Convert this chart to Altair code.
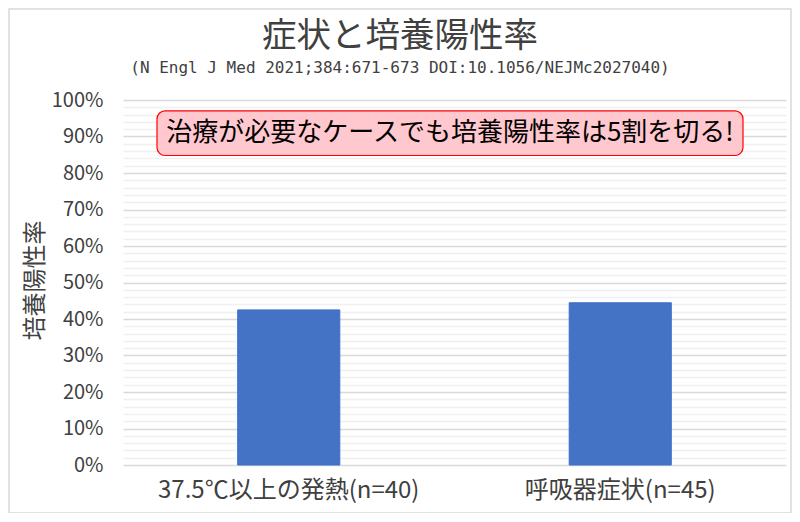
import altair as alt
import pandas as pd

# ---- data ----
categories = ["37.5℃以上の発熱(n=40)", "呼吸器症状(n=45)"]
positive_rate = [17 / 40, 20 / 45]   # 42.5%, 44.4%

title_text = ["症状と培養陽性率"]
subtitle_text = ["(N Engl J Med 2021;384:671-673 DOI:10.1056/NEJMc2027040)"]

note_text = ["治療が必要なケースでも培養陽性率は5割を切る!"]
note_y_low = [0.848]
note_y_high = [0.97]
note_y_mid = [0.909]

grid_values = [0, 0.02, 0.04, 0.06, 0.08, 0.1, 0.12, 0.14, 0.16, 0.18,
               0.2, 0.22, 0.24, 0.26, 0.28, 0.3, 0.32, 0.34, 0.36, 0.38,
               0.4, 0.42, 0.44, 0.46, 0.48, 0.5, 0.52, 0.54, 0.56, 0.58,
               0.6, 0.62, 0.64, 0.66, 0.68, 0.7, 0.72, 0.74, 0.76, 0.78,
               0.8, 0.82, 0.84, 0.86, 0.88, 0.9, 0.92, 0.94, 0.96, 0.98, 1.0]

df = pd.DataFrame({"cat": categories, "rate": positive_rate})
note_df = pd.DataFrame({"text": note_text, "y1": note_y_low, "y2": note_y_high, "ym": note_y_mid})
title_df = pd.DataFrame({"t": title_text, "s": subtitle_text})

FONT = "Noto Sans CJK JP"
TXT = "#404040"

major_test = "round(datum.value*100) % 10 === 0"

yscale = alt.Scale(domain=[0, 1], nice=False, zero=True)

y_axis = alt.Axis(values=grid_values, format=".0%",
                  labelExpr=f"{major_test} ? datum.label : ''",
                  labelOverlap=False, labelBound=False,
                  labelFontSize=20, labelColor=TXT, labelFont=FONT, labelPadding=20,
                  domain=False, ticks=False,
                  gridColor={"condition": {"test": major_test, "value": "#d9d9d9"},
                             "value": "#f0f0f0"},
                  gridWidth=1.3,
                  titleFontSize=24, titleFont=FONT, titleColor=TXT, titleFontWeight="normal",
                  titleX=-88, titleY=180, titleAngle=270, titleAlign="center",
                  titleBaseline="middle")

frame = alt.Chart(title_df).mark_rect(fillOpacity=0, stroke="#d9d9d9", strokeWidth=1.5).encode(
    x=alt.value(-114), x2=alt.value(668), y=alt.value(-91), y2=alt.value(413),
)

bars = alt.Chart(df).mark_bar(color="#4472C4", stroke="#3d6fd1", strokeWidth=1).encode(
    x=alt.X("cat:N", sort=categories, title=None,
            scale=alt.Scale(paddingInner=0.692, paddingOuter=0.346),
            axis=alt.Axis(labelAngle=0, labelFontSize=24, labelColor=TXT, labelFont=FONT,
                          labelPadding=13, labelLimit=0, domain=False, ticks=False)),
    y=alt.Y("rate:Q", scale=yscale, title="培養陽性率", axis=y_axis),
)

box = alt.Chart(note_df).mark_rect(fill="#ffc7ce", stroke="#ff0000", strokeWidth=1.2,
                                   cornerRadius=8).encode(
    x=alt.value(34), x2=alt.value(620),
    y=alt.Y("y1:Q", scale=yscale, title="培養陽性率", axis=y_axis), y2="y2:Q",
)

note = alt.Chart(note_df).mark_text(font=FONT, fontSize=26, color="#000000",
                                    align="center", baseline="middle").encode(
    x=alt.value(327), y=alt.Y("ym:Q", scale=yscale, title="培養陽性率", axis=y_axis),
    text="text:N",
)

title = alt.Chart(title_df).mark_text(font=FONT, fontSize=34.5, color=TXT,
                                      align="center", baseline="middle").encode(
    x=alt.value(277), y=alt.value(-63), text="t:N",
)

subtitle = alt.Chart(title_df).mark_text(font="DejaVu Sans Mono", fontSize=16, color=TXT,
                                         align="center", baseline="middle").encode(
    x=alt.value(277), y=alt.value(-32), text="s:N",
)

chart = alt.layer(frame, bars, box, note, title, subtitle).properties(
    width=663, height=365,
    autosize=alt.AutoSizeParams(type="none"),
    padding={"left": 115, "top": 92, "right": 6, "bottom": 48},
).configure(background="white").configure_view(stroke=None)

chart.save("out.html", embed_options={"renderer": "svg", "actions": False})
